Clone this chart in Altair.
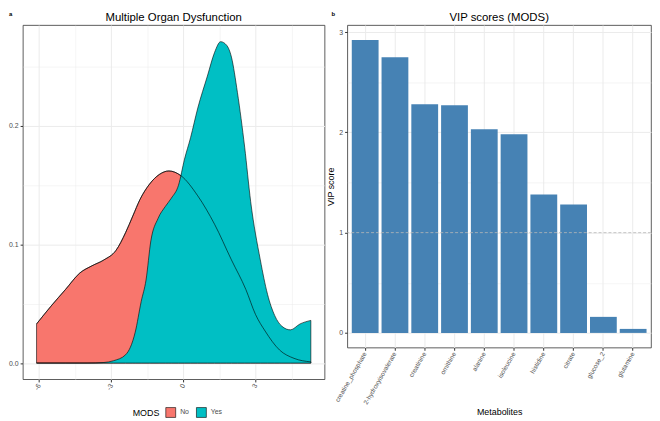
import altair as alt
import pandas as pd

# ---- Panel a: density estimates by MODS group ----
no_x = [-6.1, -5.5, -4.9, -4.3, -3.8, -3.3, -2.8, -2.4, -2.1, -1.8, -1.4, -1.0,
        -0.6, -0.1, 0.6, 1.3, 2.0, 2.6, 3.0, 3.4, 4.0, 4.6, 5.3]
no_y = [0.033, 0.048, 0.062, 0.076, 0.082, 0.087, 0.095, 0.110, 0.124, 0.138,
        0.151, 0.159, 0.162, 0.158, 0.141, 0.117, 0.087, 0.062, 0.041, 0.027,
        0.011, 0.004, 0.001]
yes_x = [-6.1, -4.0, -3.3, -2.9, -2.4, -2.0, -1.75, -1.55, -1.35, -1.05, -0.75,
         -0.5, -0.2, 0.05, 0.3, 0.6, 1.0, 1.3, 1.55, 1.8, 2.0, 2.25, 2.55, 2.8,
         3.2, 3.5, 3.8, 4.1, 4.45, 4.85, 5.3]
yes_y = [0.0, 0.0, 0.0005, 0.002, 0.007, 0.026, 0.052, 0.070, 0.103, 0.122,
         0.132, 0.139, 0.150, 0.172, 0.190, 0.215, 0.242, 0.262, 0.271, 0.268,
         0.258, 0.228, 0.182, 0.136, 0.087, 0.058, 0.040, 0.031, 0.028, 0.033,
         0.036]
groups = ["No", "Yes"]
group_colors = ["#F8766D", "#00BFC4"]

# ---- Panel b: VIP scores ----
metabolites = ["creatine_phosphate", "2-hydroxyisovalerate", "creatinine",
               "ornithine", "alanine", "isoleucine", "histidine", "citrate",
               "glucose_2", "glutamine"]
vip = [2.92, 2.75, 2.28, 2.27, 2.03, 1.98, 1.38, 1.28, 0.16, 0.04]
vip_threshold = [1]

left_title = "Multiple Organ Dysfunction"
right_title = "VIP scores (MODS)"

FONT = "Liberation Sans"
GRID = "#EBEBEB"
TICK = "#333333"
LAB = "#4D4D4D"

dens = pd.DataFrame({
    "x": no_x + yes_x,
    "density": no_y + yes_y,
    "MODS": [groups[0]] * len(no_x) + [groups[1]] * len(yes_x),
})
no_df = dens[dens["MODS"] == groups[0]]
vip_df = pd.DataFrame({"Metabolites": metabolites, "VIP score": vip})
thr_df = pd.DataFrame({"v": vip_threshold})

LW, LH = 305, 358
RW, RH = 307, 326

# ----- left panel -----
x_left = alt.X(
    "x:Q",
    scale=alt.Scale(domain=[-6.67, 5.87], nice=False, zero=False),
    axis=alt.Axis(
        title=None,
        values=[-6, -4.5, -3, -1.5, 0, 1.5, 3, 4.5],
        labelExpr="datum.value % 3 === 0 ? '' + datum.value : ''",
        labelAngle=-60,
        labelFontSize=7, labelColor=LAB, labelFont=FONT,
        tickSize=2.75,
        tickColor={"condition": {"test": "datum.value % 3 !== 0", "value": "transparent"}, "value": TICK},
        gridColor=GRID,
        gridWidth={"condition": {"test": "datum.value % 3 !== 0", "value": 0.5}, "value": 1},
        domain=False,
        labelPadding=2,
    ),
)
y_left = alt.Y(
    "density:Q",
    stack=None,
    scale=alt.Scale(domain=[-0.0136, 0.285], nice=False, zero=False),
    axis=alt.Axis(
        title=None,
        values=[0, 0.05, 0.1, 0.15, 0.2, 0.25],
        labelExpr="abs(datum.value * 10 - round(datum.value * 10)) < 1e-6 ? format(datum.value, '.1f') : ''",
        labelFontSize=7, labelColor=LAB, labelFont=FONT,
        tickSize=2.75,
        tickColor={"condition": {"test": "abs(datum.value * 10 - round(datum.value * 10)) > 1e-6", "value": "transparent"}, "value": TICK},
        gridColor=GRID,
        gridWidth={"condition": {"test": "abs(datum.value * 10 - round(datum.value * 10)) > 1e-6", "value": 0.5}, "value": 1},
        domain=False,
        labelPadding=2,
    ),
)

areas = alt.Chart(dens).mark_area(
    interpolate="monotone", stroke="black", strokeWidth=0.6, opacity=1
).encode(
    x=x_left,
    y=y_left,
    color=alt.Color(
        "MODS:N",
        scale=alt.Scale(domain=groups, range=group_colors),
        legend=alt.Legend(
            orient="none", legendX=111, legendY=386, direction="horizontal",
            titleOrient="left", title="MODS", titleFontSize=9, titleFont=FONT,
            titleFontWeight="normal", titleColor="black", titleBaseline="middle",
            labelFontSize=7, labelFont=FONT, labelColor=LAB,
            symbolType="square", symbolSize=100, symbolStrokeColor="black",
            symbolStrokeWidth=0.6, symbolOpacity=1, columnPadding=6,
            labelOffset=4, titlePadding=6,
        ),
    ),
    order=alt.Order("MODS:N"),
)

no_line = alt.Chart(no_df).mark_line(
    interpolate="monotone", color="black", strokeWidth=0.6
).encode(x="x:Q", y="density:Q")

left_title_mark = alt.Chart(pd.DataFrame({"t": [left_title]})).mark_text(
    fontSize=11.5, font=FONT, color="black", align="center", baseline="alphabetic"
).encode(text="t:N", x=alt.value(LW / 2), y=alt.value(-4))

left_letter = alt.Chart(pd.DataFrame({"t": ["a"]})).mark_text(
    fontSize=6, font=FONT, fontWeight="bold", color="black", align="left", baseline="alphabetic"
).encode(text="t:N", x=alt.value(-14), y=alt.value(-9))

left = alt.layer(areas, no_line, left_title_mark, left_letter).properties(
    width=LW, height=LH
)

# ----- right panel -----
bars = alt.Chart(vip_df).mark_bar(color="#4682B4").encode(
    x=alt.X(
        "Metabolites:N",
        sort=None,
        scale=alt.Scale(paddingInner=0.1, paddingOuter=0.15),
        axis=alt.Axis(
            title="Metabolites", titleFontSize=9, titleFont=FONT,
            titleFontWeight="normal", titleColor="black", titlePadding=2,
            labelAngle=-60, labelFontSize=6.5, labelColor=LAB, labelFont=FONT,
            tickSize=2.75, tickColor=TICK, gridColor=GRID, grid=True,
            domain=False, labelPadding=2,
        ),
    ),
    y=alt.Y(
        "VIP score:Q",
        scale=alt.Scale(domain=[-0.146, 3.07], nice=False, zero=False),
        axis=alt.Axis(
            title="VIP score", titleFontSize=9, titleFont=FONT,
            titleFontWeight="normal", titleColor="black", titlePadding=3,
            values=[0, 0.5, 1, 1.5, 2, 2.5, 3],
            labelExpr="datum.value % 1 === 0 ? '' + datum.value : ''",
            labelFontSize=7, labelColor=LAB, labelFont=FONT,
            tickSize=2.75,
            tickColor={"condition": {"test": "datum.value % 1 !== 0", "value": "transparent"}, "value": TICK},
            gridColor=GRID,
            gridWidth={"condition": {"test": "datum.value % 1 !== 0", "value": 0.5}, "value": 1},
            domain=False, labelPadding=2,
        ),
    ),
)

rule = alt.Chart(thr_df).mark_rule(
    color="#B8B8B8", strokeDash=[3, 2], strokeWidth=0.8
).encode(y="v:Q")

right_title_mark = alt.Chart(pd.DataFrame({"t": [right_title]})).mark_text(
    fontSize=11.5, font=FONT, color="black", align="center", baseline="alphabetic"
).encode(text="t:N", x=alt.value(RW / 2), y=alt.value(-4))

right_letter = alt.Chart(pd.DataFrame({"t": ["b"]})).mark_text(
    fontSize=6, font=FONT, fontWeight="bold", color="black", align="left", baseline="alphabetic"
).encode(text="t:N", x=alt.value(-16), y=alt.value(-9))

right = alt.layer(bars, rule, right_title_mark, right_letter).properties(
    width=RW, height=RH
)

chart = alt.hconcat(left, right, spacing=0).properties(padding=0).configure_view(
    stroke="#333333", strokeWidth=0.8
).configure_axis(
    labelFont=FONT, titleFont=FONT
)

chart.save("out.html", embed_options={"renderer": "svg", "actions": False})
